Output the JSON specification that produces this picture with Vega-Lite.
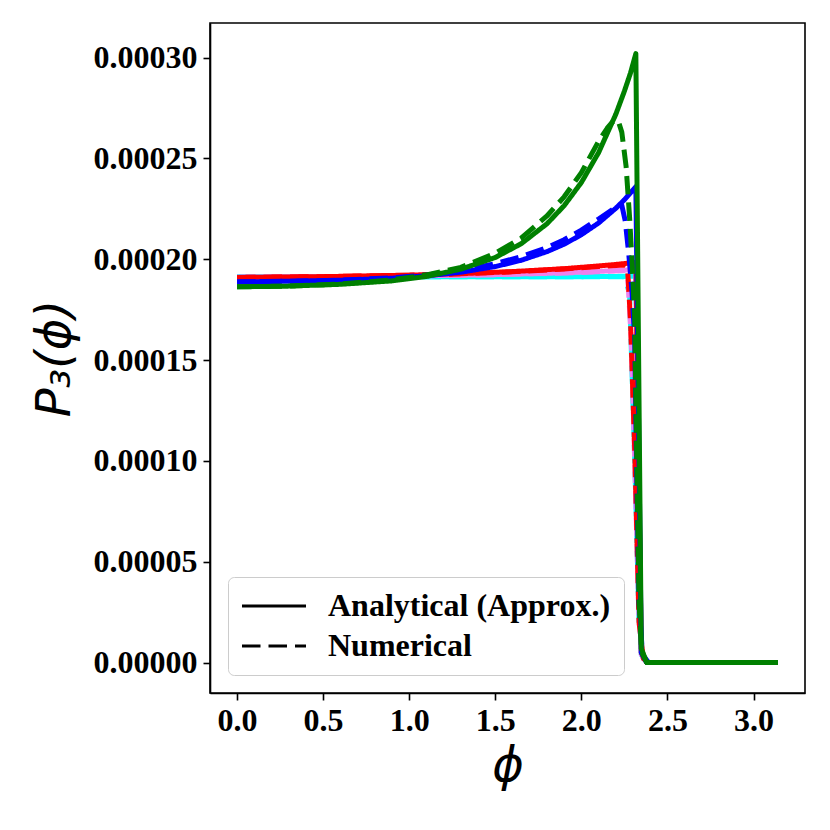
{
 "$schema": "https://vega.github.io/schema/vega-lite/v6.json",
 "width": 595, "height": 670,
 "autosize": {"type": "none"},
 "padding": {"left": 210, "top": 23, "right": 25, "bottom": 137},
 "background": "white",
 "config": {
  "view": {"stroke": "black", "strokeWidth": 1.6},
  "axis": {"grid": false, "domainColor": "black", "domainWidth": 1.6, "tickColor": "black", "tickWidth": 1.6, "tickSize": 7,
   "labelFont": "Liberation Serif", "labelFontWeight": "bold", "labelFontSize": 32, "labelColor": "black",
   "titleFont": "DejaVu Sans", "titleFontStyle": "italic", "titleFontWeight": "normal", "titleFontSize": 48, "titleColor": "black"}
 },
 "data": {"values": [
  {"s":"cyan","t":"A","x":0,"y":0.0001913},{"s":"cyan","t":"A","x":1.0,"y":0.0001913},{"s":"cyan","t":"A","x":2.0,"y":0.0001914},{"s":"cyan","t":"A","x":2.3165,"y":0.0001916},{"s":"cyan","t":"A","x":2.348,"y":0.000004},{"s":"cyan","t":"A","x":2.38,"y":0},{"s":"cyan","t":"A","x":3.1416,"y":0},
  {"s":"cyan","t":"N","x":0,"y":0.0001913},{"s":"cyan","t":"N","x":1.0,"y":0.0001913},{"s":"cyan","t":"N","x":2.0,"y":0.0001913},{"s":"cyan","t":"N","x":2.25,"y":0.0001914},{"s":"cyan","t":"N","x":2.28,"y":0.000183},{"s":"cyan","t":"N","x":2.31,"y":0.0001},{"s":"cyan","t":"N","x":2.335,"y":0.00002},{"s":"cyan","t":"N","x":2.36,"y":0.000002},{"s":"cyan","t":"N","x":2.39,"y":0},{"s":"cyan","t":"N","x":3.1416,"y":0},
  {"s":"violet","t":"A","x":0,"y":0.00019115},{"s":"violet","t":"A","x":1.0,"y":0.0001917},{"s":"violet","t":"A","x":1.5,"y":0.0001924},{"s":"violet","t":"A","x":1.9,"y":0.0001933},{"s":"violet","t":"A","x":2.1,"y":0.000194},{"s":"violet","t":"A","x":2.3165,"y":0.0001949},{"s":"violet","t":"A","x":2.348,"y":0.000004},{"s":"violet","t":"A","x":2.38,"y":0},{"s":"violet","t":"A","x":3.1416,"y":0},
  {"s":"violet","t":"N","x":0,"y":0.00019115},{"s":"violet","t":"N","x":1.0,"y":0.0001917},{"s":"violet","t":"N","x":1.5,"y":0.0001924},{"s":"violet","t":"N","x":1.9,"y":0.0001932},{"s":"violet","t":"N","x":2.1,"y":0.0001938},{"s":"violet","t":"N","x":2.255,"y":0.0001945},{"s":"violet","t":"N","x":2.27,"y":0.00019},{"s":"violet","t":"N","x":2.29,"y":0.00016},{"s":"violet","t":"N","x":2.31,"y":0.0001},{"s":"violet","t":"N","x":2.335,"y":0.00002},{"s":"violet","t":"N","x":2.36,"y":0.000002},{"s":"violet","t":"N","x":2.39,"y":0},{"s":"violet","t":"N","x":3.1416,"y":0},
  {"s":"red","t":"A","x":0,"y":0.000191},{"s":"red","t":"A","x":0.5,"y":0.0001914},{"s":"red","t":"A","x":1.0,"y":0.00019215},{"s":"red","t":"A","x":1.3,"y":0.0001929},{"s":"red","t":"A","x":1.6,"y":0.0001939},{"s":"red","t":"A","x":1.9,"y":0.00019535},{"s":"red","t":"A","x":2.1,"y":0.0001967},{"s":"red","t":"A","x":2.2,"y":0.00019745},{"s":"red","t":"A","x":2.3165,"y":0.0001985},{"s":"red","t":"A","x":2.348,"y":0.000005},{"s":"red","t":"A","x":2.38,"y":0},{"s":"red","t":"A","x":3.1416,"y":0},
  {"s":"red","t":"N","x":0,"y":0.000191},{"s":"red","t":"N","x":0.5,"y":0.0001914},{"s":"red","t":"N","x":1.0,"y":0.0001921},{"s":"red","t":"N","x":1.3,"y":0.0001928},{"s":"red","t":"N","x":1.6,"y":0.0001938},{"s":"red","t":"N","x":1.9,"y":0.0001952},{"s":"red","t":"N","x":2.1,"y":0.0001964},{"s":"red","t":"N","x":2.25,"y":0.0001972},{"s":"red","t":"N","x":2.268,"y":0.000196},{"s":"red","t":"N","x":2.285,"y":0.00017},{"s":"red","t":"N","x":2.31,"y":0.000105},{"s":"red","t":"N","x":2.335,"y":0.00002},{"s":"red","t":"N","x":2.36,"y":0.000002},{"s":"red","t":"N","x":2.39,"y":0},{"s":"red","t":"N","x":3.1416,"y":0},
  {"s":"blue","t":"A","x":0,"y":0.0001888},{"s":"blue","t":"A","x":0.3,"y":0.0001891},{"s":"blue","t":"A","x":0.6,"y":0.0001896},{"s":"blue","t":"A","x":0.9,"y":0.0001906},{"s":"blue","t":"A","x":1.1,"y":0.0001918},{"s":"blue","t":"A","x":1.3,"y":0.0001936},{"s":"blue","t":"A","x":1.5,"y":0.0001964},{"s":"blue","t":"A","x":1.65,"y":0.0001995},{"s":"blue","t":"A","x":1.8,"y":0.0002038},{"s":"blue","t":"A","x":1.9,"y":0.0002075},{"s":"blue","t":"A","x":2.0,"y":0.0002122},{"s":"blue","t":"A","x":2.1,"y":0.000218},{"s":"blue","t":"A","x":2.2,"y":0.0002253},{"s":"blue","t":"A","x":2.25,"y":0.0002295},{"s":"blue","t":"A","x":2.3165,"y":0.000236},{"s":"blue","t":"A","x":2.348,"y":0.000005},{"s":"blue","t":"A","x":2.38,"y":0},{"s":"blue","t":"A","x":3.1416,"y":0},
  {"s":"blue","t":"N","x":0,"y":0.0001888},{"s":"blue","t":"N","x":0.3,"y":0.0001891},{"s":"blue","t":"N","x":0.6,"y":0.0001897},{"s":"blue","t":"N","x":0.9,"y":0.0001908},{"s":"blue","t":"N","x":1.1,"y":0.0001922},{"s":"blue","t":"N","x":1.3,"y":0.0001945},{"s":"blue","t":"N","x":1.5,"y":0.0001978},{"s":"blue","t":"N","x":1.65,"y":0.0002013},{"s":"blue","t":"N","x":1.8,"y":0.0002058},{"s":"blue","t":"N","x":1.9,"y":0.0002097},{"s":"blue","t":"N","x":2.0,"y":0.0002145},{"s":"blue","t":"N","x":2.1,"y":0.00022},{"s":"blue","t":"N","x":2.2,"y":0.0002258},{"s":"blue","t":"N","x":2.235,"y":0.0002268},{"s":"blue","t":"N","x":2.255,"y":0.000219},{"s":"blue","t":"N","x":2.275,"y":0.000203},{"s":"blue","t":"N","x":2.295,"y":0.000183},{"s":"blue","t":"N","x":2.31,"y":0.00016},{"s":"blue","t":"N","x":2.322,"y":0.00009},{"s":"blue","t":"N","x":2.335,"y":0.00003},{"s":"blue","t":"N","x":2.355,"y":0.000004},{"s":"blue","t":"N","x":2.39,"y":0},{"s":"blue","t":"N","x":3.1416,"y":0},
  {"s":"green","t":"A","x":0,"y":0.00018635},{"s":"green","t":"A","x":0.3,"y":0.0001867},{"s":"green","t":"A","x":0.6,"y":0.0001876},{"s":"green","t":"A","x":0.9,"y":0.0001893},{"s":"green","t":"A","x":1.1,"y":0.0001915},{"s":"green","t":"A","x":1.3,"y":0.0001951},{"s":"green","t":"A","x":1.5,"y":0.0002009},{"s":"green","t":"A","x":1.65,"y":0.0002077},{"s":"green","t":"A","x":1.8,"y":0.0002176},{"s":"green","t":"A","x":1.9,"y":0.0002266},{"s":"green","t":"A","x":2.0,"y":0.0002381},{"s":"green","t":"A","x":2.1,"y":0.0002529},{"s":"green","t":"A","x":2.2,"y":0.0002719},{"s":"green","t":"A","x":2.25,"y":0.0002834},{"s":"green","t":"A","x":2.285,"y":0.0002923},{"s":"green","t":"A","x":2.3165,"y":0.000302},{"s":"green","t":"A","x":2.348,"y":0.000007},{"s":"green","t":"A","x":2.38,"y":0},{"s":"green","t":"A","x":3.1416,"y":0},
  {"s":"green","t":"N","x":0,"y":0.00018635},{"s":"green","t":"N","x":0.3,"y":0.0001867},{"s":"green","t":"N","x":0.6,"y":0.0001878},{"s":"green","t":"N","x":0.9,"y":0.0001898},{"s":"green","t":"N","x":1.1,"y":0.0001923},{"s":"green","t":"N","x":1.3,"y":0.000196},{"s":"green","t":"N","x":1.5,"y":0.000203},{"s":"green","t":"N","x":1.65,"y":0.0002105},{"s":"green","t":"N","x":1.8,"y":0.0002215},{"s":"green","t":"N","x":1.9,"y":0.000231},{"s":"green","t":"N","x":2.0,"y":0.000243},{"s":"green","t":"N","x":2.1,"y":0.0002585},{"s":"green","t":"N","x":2.15,"y":0.000265},{"s":"green","t":"N","x":2.18,"y":0.000268},{"s":"green","t":"N","x":2.2,"y":0.000269},{"s":"green","t":"N","x":2.215,"y":0.0002685},{"s":"green","t":"N","x":2.235,"y":0.000263},{"s":"green","t":"N","x":2.26,"y":0.000246},{"s":"green","t":"N","x":2.28,"y":0.000221},{"s":"green","t":"N","x":2.295,"y":0.000198},{"s":"green","t":"N","x":2.31,"y":0.00017},{"s":"green","t":"N","x":2.322,"y":0.0001},{"s":"green","t":"N","x":2.335,"y":0.00003},{"s":"green","t":"N","x":2.35,"y":0.000005},{"s":"green","t":"N","x":2.38,"y":0},{"s":"green","t":"N","x":3.1416,"y":0}
 ]},
 "encoding": {
  "x": {"field": "x", "type": "quantitative", "scale": {"domain": [-0.157, 3.299], "nice": false, "zero": false},
   "axis": {"values": [0, 0.5, 1, 1.5, 2, 2.5, 3], "format": ".1f", "title": "ϕ", "labelPadding": 5, "titlePadding": 6}},
  "y": {"field": "y", "type": "quantitative", "scale": {"domain": [-0.0000151, 0.0003172], "nice": false, "zero": false},
   "axis": {"values": [0, 0.00005, 0.0001, 0.00015, 0.0002, 0.00025, 0.0003], "format": ".5f", "title": "P₃(ϕ)", "labelPadding": 6, "titlePadding": 14}},
  "color": {"field": "s", "type": "nominal", "scale": {"domain": ["cyan", "violet", "red", "blue", "green"], "range": ["#00ffff", "#ee82ee", "#ff0000", "#0000ff", "#008000"]}, "legend": null},
  "strokeDash": {"field": "t", "type": "nominal", "scale": {"domain": ["A", "N"], "range": [[1, 0], [18.5, 8]]},
   "legend": {"title": null, "orient": "none", "legendX": 18, "legendY": 554,
    "symbolType": "M-4,0H4", "symbolSize": 256, "symbolStrokeWidth": 3, "symbolStrokeColor": "black", "symbolOffset": 17,
    "labelOffset": 38, "labelLimit": 500, "labelFont": "Liberation Serif", "labelFontWeight": "bold", "labelFontSize": 32, "labelColor": "black",
    "labelExpr": "datum.value === 'A' ? 'Analytical (Approx.)' : 'Numerical'",
    "rowPadding": 8, "padding": 13, "fillColor": "rgba(255,255,255,0.8)", "strokeColor": "#cccccc", "cornerRadius": 6,
    "encode": {"symbols": {"update": {"strokeDash": {"signal": "datum.value === 'N' ? [11, 4.8] : [1, 0]"}, "stroke": {"value": "black"}}}}}}
 },
 "layer": [
  {"transform": [{"filter": "datum.s === 'cyan'"}], "mark": {"type": "line", "strokeWidth": 5, "clip": true, "strokeJoin": "round"}},
  {"transform": [{"filter": "datum.s === 'violet'"}], "mark": {"type": "line", "strokeWidth": 5, "clip": true, "strokeJoin": "round"}},
  {"transform": [{"filter": "datum.s === 'red'"}], "mark": {"type": "line", "strokeWidth": 5, "clip": true, "strokeJoin": "round"}},
  {"transform": [{"filter": "datum.s === 'blue'"}], "mark": {"type": "line", "strokeWidth": 5, "clip": true, "strokeJoin": "round"}},
  {"transform": [{"filter": "datum.s === 'green'"}], "mark": {"type": "line", "strokeWidth": 5, "clip": true, "strokeJoin": "round"}}
 ]
}
